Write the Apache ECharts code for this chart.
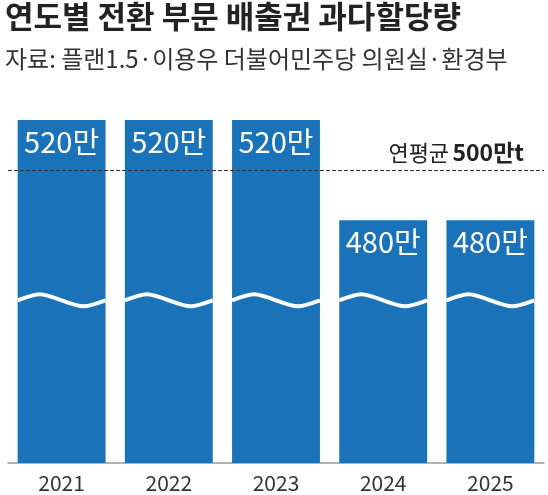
<!DOCTYPE html><html><head><meta charset="utf-8">
<script src="https://cdn.jsdelivr.net/npm/echarts@6/dist/echarts.min.js"></script>
<style>body{margin:0}#c{width:548px;height:495px}</style></head><body><div id="c"></div>
<script>
const categories=['2021','2022','2023','2024','2025'];
const values=[520,520,520,480,480];
const labels=['520만','520만','520만','480만','480만'];
const average=500;
const avgLabelA='연평균';
const avgLabelB='500만t';
const breakValue=448;
const F='"Liberation Sans Narrow","Noto Sans CJK KR",sans-serif';
const chart=echarts.init(document.getElementById('c'));
chart.setOption({
 animation:false,
 title:[{text:'연도별 전환 부문 배출권 과다할당량',left:0,top:-4,textStyle:{fontSize:31,fontWeight:'bold',color:'#222',fontFamily:'"Noto Sans CJK KR"'}},
 {text:'자료: 플랜1.5·이용우 더불어민주당 의원실·환경부',left:0,top:42,textStyle:{fontSize:24,fontWeight:'normal',color:'#333',fontFamily:'"Noto Sans CJK KR"'}}],
 grid:{left:8,right:4,top:120,bottom:32},
 xAxis:{type:'category',data:categories,axisTick:{show:false},axisLine:{lineStyle:{color:'#999',width:1.5}},
  axisLabel:{fontSize:21,color:'#333',fontFamily:F,margin:10}},
 yAxis:{type:'value',min:383,max:520,show:false,splitLine:{show:false}},
 series:[{type:'bar',data:values,barWidth:'82%',itemStyle:{color:'#1a73b8'},
   label:{show:true,position:'insideTop',offset:[0,2],formatter:p=>labels[p.dataIndex],color:'#fff',fontSize:29,fontFamily:F},
   markLine:{symbol:'none',silent:true,data:[{yAxis:average}],lineStyle:{type:'dashed',color:'#333',width:1},
    label:{show:true,position:'insideEndTop',formatter:'{a|'+avgLabelA+'} {b|'+avgLabelB+'}',distance:[20,6],
     rich:{a:{color:'#222',fontSize:22,fontFamily:F},b:{color:'#222',fontSize:23,fontWeight:'bold',fontFamily:F}}}}},
  {type:'custom',data:values.map((v,i)=>[i,breakValue]),z:5,
   renderItem:(params,api)=>{const c=api.coord([api.value(0),api.value(1)]);const w=api.size([1,0])[0]*0.82;
    const x0=c[0]-w/2,x1=c[0]+w/2,y=c[1],a=4;const q=w/4;
    const d=`M${x0} ${y} C${x0+q} ${y-2*a},${x0+q} ${y-2*a},${x0+2*q} ${y} S${x0+3*q} ${y+2*a},${x1} ${y}`;
    return {type:'path',shape:{pathData:d},style:{stroke:'#fff',lineWidth:4,fill:null}};}}]
});
</script></body></html>
